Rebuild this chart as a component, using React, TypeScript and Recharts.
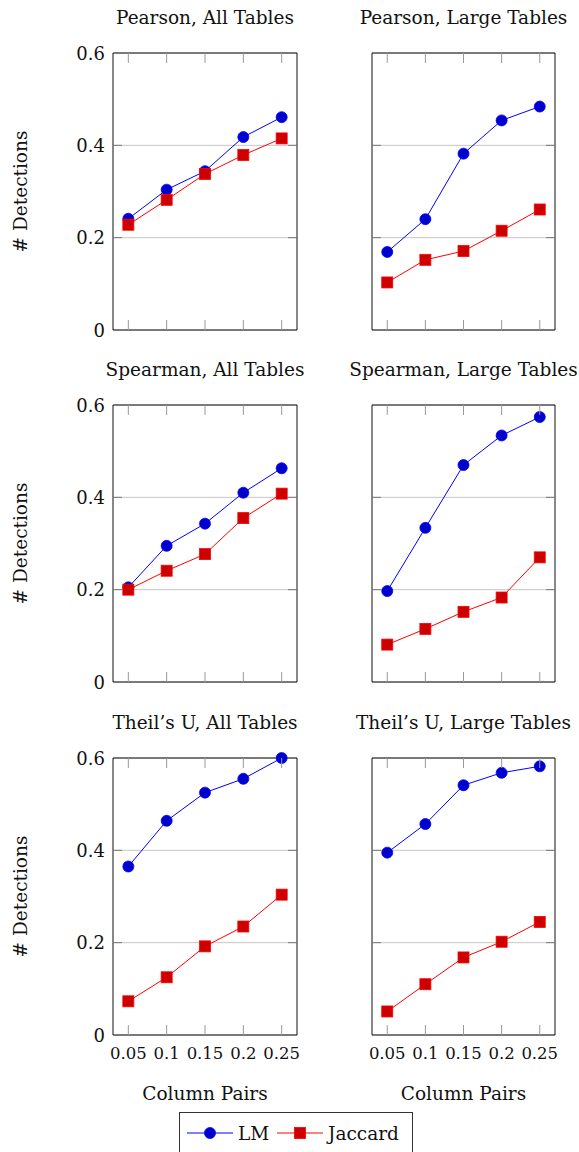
import { LineChart, Line, XAxis, YAxis, CartesianGrid, ReferenceArea } from 'recharts';

// x values (fraction of column pairs) and y ticks
const columnPairs = [0.05, 0.1, 0.15, 0.2, 0.25];
const yTicks = [0, 0.2, 0.4, 0.6];

// values
const pearsonAllLM = [0.241, 0.304, 0.344, 0.418, 0.461];
const pearsonAllJaccard = [0.228, 0.282, 0.338, 0.379, 0.415];
const pearsonLargeLM = [0.169, 0.24, 0.382, 0.454, 0.484];
const pearsonLargeJaccard = [0.103, 0.152, 0.171, 0.215, 0.261];
const spearmanAllLM = [0.205, 0.295, 0.343, 0.41, 0.463];
const spearmanAllJaccard = [0.2, 0.241, 0.277, 0.355, 0.408];
const spearmanLargeLM = [0.197, 0.334, 0.47, 0.534, 0.574];
const spearmanLargeJaccard = [0.081, 0.115, 0.152, 0.183, 0.27];
const theilAllLM = [0.365, 0.464, 0.525, 0.555, 0.6];
const theilAllJaccard = [0.073, 0.125, 0.192, 0.235, 0.304];
const theilLargeLM = [0.395, 0.457, 0.541, 0.568, 0.582];
const theilLargeJaccard = [0.051, 0.11, 0.168, 0.202, 0.245];

const FONT = '"DejaVu Serif", serif';
const TXT = 18.5;
const TICK_TXT = 16.5;
const LM_LINE = '#0000ff';
const LM_FILL = '#0000cc';
const JAC_LINE = '#ff0000';
const JAC_FILL = '#cc0000';
const X_DOMAIN: [number, number] = [0.03, 0.27];
const Y_DOMAIN: [number, number] = [0, 0.6];
const PLOT_H = 277;
const TOP_M = 53;

const circleDot = (p: any) => (
    <circle key={`c${p.index}`} cx={p.cx} cy={p.cy} r={5.5} fill={LM_FILL} stroke={LM_LINE} strokeWidth={0.8} />
);
const squareDot = (p: any) => (
    <rect key={`s${p.index}`} x={p.cx - 5.5} y={p.cy - 5.5} width={11} height={11} fill={JAC_FILL} stroke={JAC_LINE} strokeWidth={0.8} />
);

type PanelProps = {
    title: string;
    lm: number[];
    jaccard: number[];
    col: 0 | 1;
    row: 0 | 1 | 2;
};

const COLS = [
    { left: 0, width: 310, axisW: 113, right: 13 },
    { left: 310, width: 269, axisW: 62, right: 24 },
];
const ROW_TOPS = [0, 352, 705];

function Panel({ title, lm, jaccard, col, row }: PanelProps) {
    const c = COLS[col];
    const plotW = c.width - c.axisW - c.right;
    const bottomRow = row === 2;
    const xAxisH = bottomRow ? 75 : 30;
    const height = TOP_M + PLOT_H + xAxisH;
    const data = columnPairs.map((x, i) => ({ x, lm: lm[i], jaccard: jaccard[i] }));

    const xTick = (p: any) => {
        const { x, y, payload } = p;
        return (
            <g>
                <line x1={x} x2={x} y1={y} y2={y - 10} stroke="#999" />
                <line x1={x} x2={x} y1={y - PLOT_H} y2={y - PLOT_H + 10} stroke="#999" />
                {bottomRow && (
                    <text x={x} y={y + 24} textAnchor="middle" fontFamily={FONT} fontSize={TICK_TXT} fill="#111">
                        {String(payload.value)}
                    </text>
                )}
            </g>
        );
    };

    const yTick = (p: any) => {
        const { x, y, payload } = p;
        const inner = payload.value > Y_DOMAIN[0] && payload.value < Y_DOMAIN[1];
        return (
            <g>
                {inner && <line x1={x} x2={x + 9} y1={y} y2={y} stroke="#777" />}
                {inner && <line x1={x + plotW - 9} x2={x + plotW} y1={y} y2={y} stroke="#777" />}
                {col === 0 && (
                    <text x={x - 8} y={y + 6.5} textAnchor="end" fontFamily={FONT} fontSize={18} fill="#111">
                        {String(payload.value)}
                    </text>
                )}
            </g>
        );
    };

    return (
        <div style={{ position: 'absolute', left: c.left, top: ROW_TOPS[row], width: c.width, height }}>
            <div
                style={{
                    position: 'absolute',
                    left: c.axisW - 40,
                    width: plotW + 80,
                    top: 5.5,
                    height: 24,
                    lineHeight: '24px',
                    textAlign: 'center',
                    fontFamily: FONT,
                    fontSize: TXT,
                    color: '#111',
                    whiteSpace: 'nowrap',
                }}
            >
                {title}
            </div>
            <LineChart width={c.width} height={height} data={data} margin={{ top: TOP_M, right: c.right, left: 0, bottom: 0 }}>
                <CartesianGrid vertical={false} stroke="#c6c6c6" />
                <ReferenceArea x1={X_DOMAIN[0]} x2={X_DOMAIN[1]} y1={Y_DOMAIN[0]} y2={Y_DOMAIN[1]} fill="none" stroke="#111" strokeWidth={1} />
                <XAxis
                    dataKey="x"
                    type="number"
                    domain={X_DOMAIN}
                    ticks={columnPairs}
                    interval={0}
                    height={xAxisH}
                    axisLine={false}
                    tickLine={false}
                    tickSize={0}
                    tickMargin={0}
                    tick={xTick}
                    label={
                        bottomRow
                            ? { value: 'Column Pairs', position: 'insideBottom', offset: 10, fontFamily: FONT, fontSize: TXT, fill: '#111' }
                            : undefined
                    }
                />
                <YAxis
                    type="number"
                    domain={Y_DOMAIN}
                    ticks={yTicks}
                    interval={0}
                    width={c.axisW}
                    axisLine={false}
                    tickLine={false}
                    tickSize={0}
                    tickMargin={0}
                    tick={yTick}
                    label={
                        col === 0
                            ? { value: '# Detections', angle: -90, position: 'insideLeft', offset: 20, fontFamily: FONT, fontSize: TXT, fill: '#111', style: { textAnchor: 'middle' } }
                            : undefined
                    }
                />
                <Line dataKey="lm" name="LM" stroke={LM_LINE} strokeWidth={1} dot={circleDot} isAnimationActive={false} />
                <Line dataKey="jaccard" name="Jaccard" stroke={JAC_LINE} strokeWidth={1} dot={squareDot} isAnimationActive={false} />
            </LineChart>
        </div>
    );
}

function LegendBox() {
    return (
        <div
            style={{
                position: 'absolute',
                left: 179,
                top: 1112,
                width: 232,
                height: 60,
                border: '1px solid #333',
                background: '#fff',
            }}
        >
            <svg width={232} height={40} style={{ display: 'block' }}>
                <line x1={7} x2={53} y1={20} y2={20} stroke={LM_LINE} />
                <circle cx={30} cy={20} r={5.5} fill={LM_FILL} stroke={LM_LINE} strokeWidth={0.8} />
                <text x={58} y={27} fontFamily={FONT} fontSize={TXT} fill="#111">LM</text>
                <line x1={97} x2={143} y1={20} y2={20} stroke={JAC_LINE} />
                <rect x={114.5} y={14.5} width={11} height={11} fill={JAC_FILL} stroke={JAC_LINE} strokeWidth={0.8} />
                <text x={148} y={27} fontFamily={FONT} fontSize={TXT} fill="#111">Jaccard</text>
            </svg>
        </div>
    );
}

export default function App() {
    return (
        <div style={{ position: 'absolute', left: 0, top: 0, width: 579, height: 1152, overflow: 'hidden', background: '#fff' }}>
            <Panel title="Pearson, All Tables" lm={pearsonAllLM} jaccard={pearsonAllJaccard} col={0} row={0} />
            <Panel title="Pearson, Large Tables" lm={pearsonLargeLM} jaccard={pearsonLargeJaccard} col={1} row={0} />
            <Panel title="Spearman, All Tables" lm={spearmanAllLM} jaccard={spearmanAllJaccard} col={0} row={1} />
            <Panel title="Spearman, Large Tables" lm={spearmanLargeLM} jaccard={spearmanLargeJaccard} col={1} row={1} />
            <Panel title="Theil’s U, All Tables" lm={theilAllLM} jaccard={theilAllJaccard} col={0} row={2} />
            <Panel title="Theil’s U, Large Tables" lm={theilLargeLM} jaccard={theilLargeJaccard} col={1} row={2} />
            <LegendBox />
        </div>
    );
}
